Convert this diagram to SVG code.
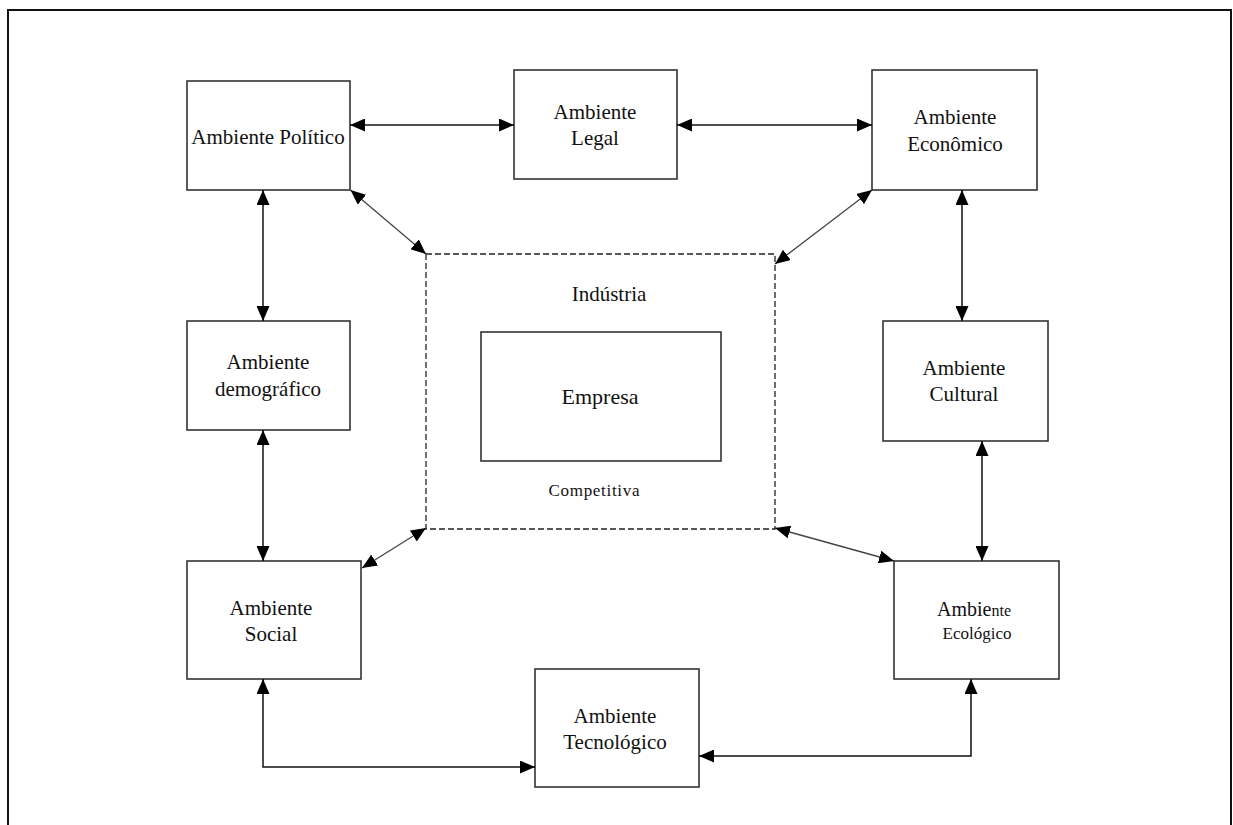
<svg xmlns="http://www.w3.org/2000/svg" width="1233" height="825" viewBox="0 0 1233 825">
<style>
.box{fill:#fff;stroke:#333;stroke-width:1.6}
.t{font-family:"Liberation Serif","Times New Roman",serif;font-size:21px;fill:#111;text-anchor:middle}
.c{fill:none;stroke:#111;stroke-width:1.5}
.d{fill:none;stroke:#444;stroke-width:1.3}
</style>
<defs>
<marker id="ah" markerUnits="userSpaceOnUse" markerWidth="16" markerHeight="13" refX="15" refY="6.5" orient="auto-start-reverse">
<path d="M0,0 L15,6.5 L0,13 z" fill="#000"/>
</marker>
</defs>
<rect x="0" y="0" width="1233" height="825" fill="#fff"/>
<rect x="8" y="10" width="1223" height="830" fill="none" stroke="#111" stroke-width="2"/>

<g id="industria">
<rect x="426" y="254" width="349" height="275" fill="none" stroke="#222" stroke-width="1.3" stroke-dasharray="6,3"/>
<text class="t" x="609" y="301">Indústria</text>
<text class="t" x="594" y="496" style="font-size:17px" textLength="91">Competitiva</text>
</g>
<g id="empresa">
<rect class="box" x="481" y="332" width="240" height="129"/>
<text class="t" x="600" y="404" style="font-size:22px">Empresa</text>
</g>

<g id="politico">
<rect class="box" x="187" y="81" width="163" height="109"/>
<text class="t" x="268" y="144">Ambiente Político</text>
</g>
<g id="legal">
<rect class="box" x="514" y="70" width="163" height="109"/>
<text class="t" x="595" y="119">Ambiente</text>
<text class="t" x="595" y="145">Legal</text>
</g>
<g id="economico">
<rect class="box" x="872" y="70" width="165" height="120"/>
<text class="t" x="955" y="124">Ambiente</text>
<text class="t" x="955" y="151">Econômico</text>
</g>
<g id="demografico">
<rect class="box" x="187" y="321" width="163" height="109"/>
<text class="t" x="268" y="369">Ambiente</text>
<text class="t" x="268" y="396">demográfico</text>
</g>
<g id="cultural">
<rect class="box" x="883" y="321" width="165" height="120"/>
<text class="t" x="964" y="375">Ambiente</text>
<text class="t" x="964" y="401">Cultural</text>
</g>
<g id="social">
<rect class="box" x="187" y="561" width="174" height="118"/>
<text class="t" x="271" y="615">Ambiente</text>
<text class="t" x="271" y="641">Social</text>
</g>
<g id="tecnologico">
<rect class="box" x="535" y="669" width="164" height="118"/>
<text class="t" x="615" y="723">Ambiente</text>
<text class="t" x="615" y="749">Tecnológico</text>
</g>
<g id="ecologico">
<rect class="box" x="894" y="561" width="165" height="118"/>
<text class="t" x="974" y="616"><tspan style="font-size:20px">Ambie</tspan><tspan style="font-size:16px">nte</tspan></text>
<text class="t" x="977" y="639" style="font-size:17px">Ecológico</text>
</g>

<g id="connectors">
<line class="c" x1="350" y1="125" x2="514" y2="125" marker-start="url(#ah)" marker-end="url(#ah)"/>
<line class="c" x1="677" y1="125" x2="872" y2="125" marker-start="url(#ah)" marker-end="url(#ah)"/>
<line class="c" x1="263" y1="190" x2="263" y2="321" marker-start="url(#ah)" marker-end="url(#ah)"/>
<line class="c" x1="263" y1="430" x2="263" y2="561" marker-start="url(#ah)" marker-end="url(#ah)"/>
<path class="c" d="M263,679 V767 H535" marker-start="url(#ah)" marker-end="url(#ah)"/>
<line class="c" x1="962" y1="190" x2="962" y2="321" marker-start="url(#ah)" marker-end="url(#ah)"/>
<line class="c" x1="982" y1="441" x2="982" y2="561" marker-start="url(#ah)" marker-end="url(#ah)"/>
<path class="c" d="M971,679 V756 H699" marker-start="url(#ah)" marker-end="url(#ah)"/>
<line class="d" x1="350.5" y1="190" x2="426" y2="254" marker-start="url(#ah)" marker-end="url(#ah)"/>
<line class="d" x1="872" y1="190" x2="775" y2="264" marker-start="url(#ah)" marker-end="url(#ah)"/>
<line class="d" x1="426" y1="528" x2="362" y2="568" marker-start="url(#ah)" marker-end="url(#ah)"/>
<line class="d" x1="775" y1="528" x2="894" y2="561" marker-start="url(#ah)" marker-end="url(#ah)"/>
</g>
</svg>
